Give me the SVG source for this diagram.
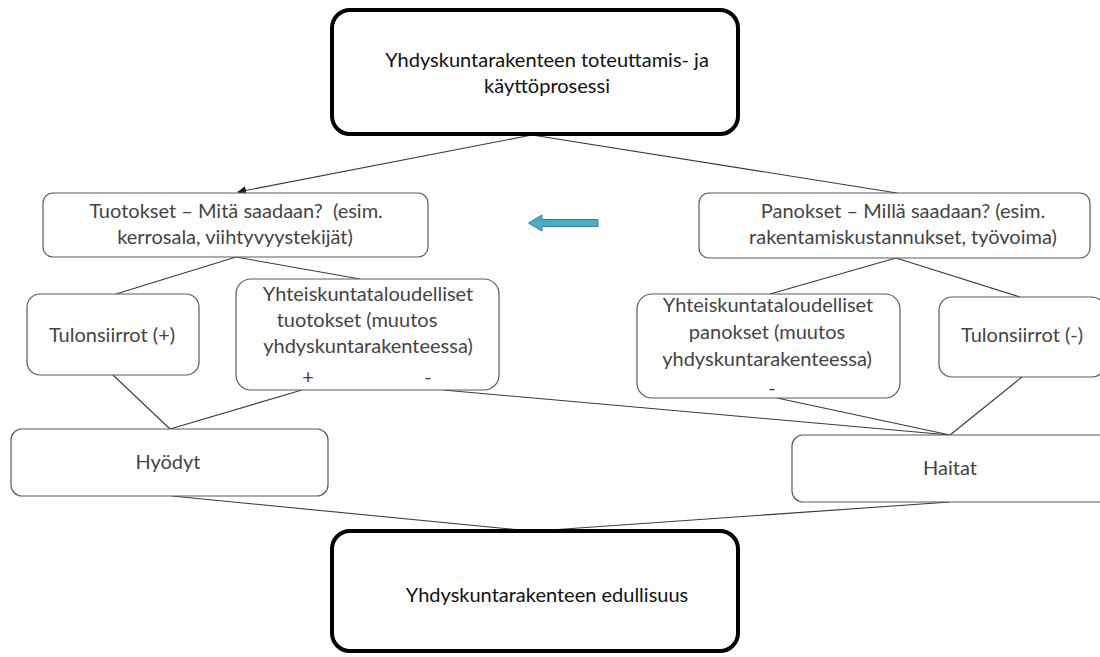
<svg xmlns="http://www.w3.org/2000/svg" width="1100" height="657" viewBox="0 0 1100 657">
<defs>
<style>
.main{fill:#fff;stroke:#000;stroke-width:4}
.box{fill:#fff;stroke:#5a5a5a;stroke-width:1.2}
.conn{stroke:#3a3a3a;stroke-width:1.1;fill:none}
.t{font-family:Lato,"Open Sans","Liberation Sans",sans-serif;font-size:20px;fill:#444;text-anchor:middle;white-space:pre}
.tm{font-family:Lato,"Open Sans","Liberation Sans",sans-serif;font-size:20px;fill:#111;text-anchor:middle}
</style>
<marker id="ah" viewBox="0 0 10 10" refX="9" refY="5" markerWidth="9" markerHeight="9" markerUnits="userSpaceOnUse" orient="auto">
<path d="M0,0 L10,5 L0,10 z" fill="#222"/>
</marker>
</defs>
<rect width="1100" height="657" fill="#fff"/>
<g id="connectors">
<line class="conn" x1="532" y1="135" x2="238" y2="192" marker-end="url(#ah)"/>
<line class="conn" x1="532" y1="135" x2="897" y2="193"/>
<line class="conn" x1="236" y1="257" x2="116" y2="294"/>
<line class="conn" x1="236" y1="257" x2="360" y2="279"/>
<line class="conn" x1="896" y1="258" x2="770" y2="294"/>
<line class="conn" x1="896" y1="258" x2="1020" y2="297"/>
<line class="conn" x1="113" y1="375" x2="170" y2="429"/>
<line class="conn" x1="302" y1="390" x2="170" y2="429"/>
<line class="conn" x1="443" y1="390" x2="950" y2="435"/>
<line class="conn" x1="777" y1="398" x2="950" y2="435"/>
<line class="conn" x1="1022" y1="377" x2="950" y2="435"/>
<line class="conn" x1="172" y1="496" x2="530" y2="531"/>
<line class="conn" x1="950" y1="502" x2="536" y2="531"/>
<path d="M528.5,223 L542,215 L542,219.5 L598,219.5 L598,226.5 L542,226.5 L542,231 Z" fill="#4bacc6" stroke="#31849b" stroke-width="1"/>
</g>
<g id="n-top">
<rect class="main" x="332" y="10" width="406" height="124" rx="18"/>
<text class="tm" x="547" y="67">Yhdyskuntarakenteen toteuttamis- ja</text>
<text class="tm" x="547" y="93">käyttöprosessi</text>
</g>
<g id="n-tuotokset">
<rect class="box" x="43" y="193" width="385" height="64" rx="10"/>
<text class="t" x="236" y="218">Tuotokset – Mitä saadaan?  (esim.</text>
<text class="t" x="235" y="244">kerrosala, viihtyvyystekijät)</text>
</g>
<g id="n-panokset">
<rect class="box" x="699" y="193" width="391" height="65" rx="10"/>
<text class="t" x="903" y="218">Panokset – Millä saadaan? (esim.</text>
<text class="t" x="903" y="244">rakentamiskustannukset, työvoima)</text>
</g>
<g id="n-tulon-plus">
<rect class="box" x="27" y="294" width="172" height="81" rx="13"/>
<text class="t" x="112" y="342">Tulonsiirrot (+)</text>
</g>
<g id="n-yht-tuotokset">
<rect class="box" x="236" y="279" width="263" height="111" rx="15"/>
<text class="t" x="368" y="301">Yhteiskuntataloudelliset</text>
<text class="t" x="357" y="327">tuotokset (muutos</text>
<text class="t" x="368" y="353">yhdyskuntarakenteessa)</text>
<text class="t" x="308" y="384">+</text>
<text class="t" x="428" y="384">-</text>
</g>
<g id="n-yht-panokset">
<rect class="box" x="637" y="294" width="263" height="104" rx="15"/>
<text class="t" x="768" y="312">Yhteiskuntataloudelliset</text>
<text class="t" x="767" y="339">panokset (muutos</text>
<text class="t" x="767" y="366">yhdyskuntarakenteessa)</text>
<text class="t" x="772" y="395">-</text>
</g>
<g id="n-tulon-minus">
<rect class="box" x="939" y="297" width="166" height="80" rx="13"/>
<text class="t" x="1022" y="342">Tulonsiirrot (-)</text>
</g>
<g id="n-hyodyt">
<rect class="box" x="11" y="429" width="317" height="67" rx="11"/>
<text class="t" x="168" y="469">Hyödyt</text>
</g>
<g id="n-haitat">
<rect class="box" x="792" y="435" width="320" height="67" rx="11"/>
<text class="t" x="950" y="475">Haitat</text>
</g>
<g id="n-bottom">
<rect class="main" x="332" y="531" width="406" height="120" rx="18"/>
<text class="tm" x="547" y="602">Yhdyskuntarakenteen edullisuus</text>
</g>
</svg>
